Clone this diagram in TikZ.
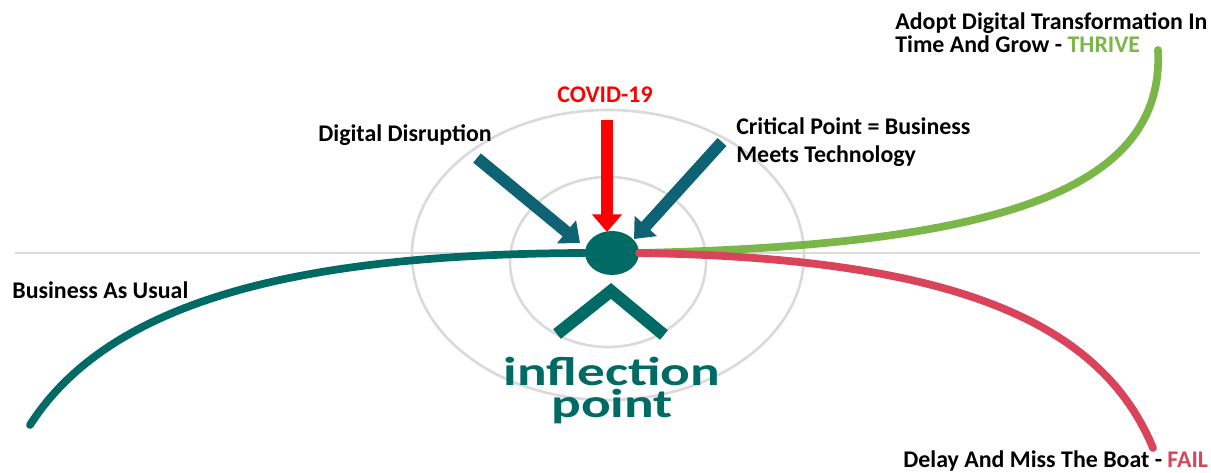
\documentclass[tikz,border=0pt]{standalone}
\usepackage{fontspec}
\setmainfont{Carlito}
\usetikzlibrary{positioning, shapes.geometric, arrows.meta}
\definecolor{ipteal}{HTML}{006B65}
\definecolor{arrteal}{HTML}{0D6373}
\definecolor{thrivegreen}{HTML}{7AB648}
\definecolor{failred}{HTML}{D9445B}
\definecolor{covidred}{HTML}{FF0000}
\definecolor{ringgray}{HTML}{DADADA}
\tikzset{
	labe/.append style={
		align = left,
		inner sep=0pt,
		font={\bfseries\fontsize{13.6}{16}\selectfont}
	},
	bigtxt/.append style={
		inner sep=0pt,
		text=ipteal,
		font={\bfseries\fontsize{23}{23}\selectfont}
	},
	ring/.append style={
		draw=ringgray,
		line width=1.5pt,
	},
	road/.append style={
		line width=4.4pt,
		line cap=round,
	},
	push/.append style={
		line width=6.8pt,
		-{Triangle[width=16.5pt, length=10pt]},
	}
}

\begin{document}
\begin{tikzpicture}[x=0.02cm, y=-0.02cm]
\useasboundingbox (0,0) rectangle (1211,473);

% background rings and axis
\draw[ring] (608,255) ellipse [x radius=196, y radius=145];
\draw[ring] (608,262) ellipse [x radius=98, y radius=85];
\coordinate (hl) at (15,253);
\coordinate (hr) at (1200,253);
\draw[ring] (hl) -- (hr);

% the point
\node(ip)[ellipse, fill=ipteal, minimum width=1.08cm, minimum height=0.88cm, inner sep=0pt] at (612,253) {};

% roads
\coordinate (bs) at (30,425);
\coordinate (ts) at (1158,50);
\coordinate (fs) at (1153,448);
\draw[road, ipteal] (bs) .. controls (110,300) and (300,254) .. (ip.west);
\draw[road, thrivegreen] (ip.east) .. controls (1000,245) and (1165,190) .. (ts);
\draw[road, failred] (ip.east) .. controls (950,258) and (1100,320) .. (fs);

% labels
\node(bau)[labe, anchor=base west] at (12,298) {Business As Usual};
\node(dd)[labe, anchor=base west] at (318,142) {Digital Disruption};
\node(covid)[labe, anchor=base, text=covidred] at (605,103) {COVID-19};
\node(crit)[labe, anchor=base west] at (736,163) {Critical Point = Business\\Meets Technology};
\node(thrive)[labe, anchor=base west, font={\bfseries\fontsize{13.6}{13.2}\selectfont}] at (895,53) {Adopt Digital Transformation In\\Time And Grow - \textcolor{thrivegreen}{THRIVE}};
\node(fail)[labe, anchor=base west] at (903,467) {Delay And Miss The Boat - \textcolor{failred}{FAIL}};

% forces
\coordinate (a1) at (477,158);
\coordinate (a1t) at (580,243);
\coordinate (a2) at (607,120);
\coordinate (a2t) at (607,232);
\coordinate (a3) at (722,142);
\coordinate (a3t) at (634,239);
\draw[push, arrteal] (a1) -- (a1t);
\draw[push, covidred] (a2) -- (a2t);
\draw[push, arrteal] (a3) -- (a3t);

% caret
\coordinate (c1) at (557,334);
\coordinate (c2) at (611,291);
\coordinate (c3) at (664,335);
\draw[ipteal, line width=7pt] (c1) -- (c2) -- (c3);

\node(infl)[bigtxt, anchor=base] at (612,385) {\scalebox{1.37}[1]{inflection}};
\node(pt)[bigtxt, anchor=base] at (612,417) {\scalebox{1.37}[1]{point}};

\end{tikzpicture}
\end{document}
